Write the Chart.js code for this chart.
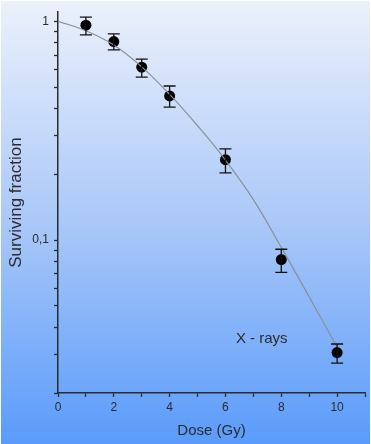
<!DOCTYPE html>
<html>
<head>
<meta charset="utf-8">
<script src="https://cdn.jsdelivr.net/npm/chart.js@4/dist/chart.umd.min.js"></script>
<style>
  html, body { margin: 0; padding: 0; background: #fff; }
  #wrap { width: 371px; height: 444px; position: relative; }
</style>
</head>
<body>
<div id="wrap"><canvas id="survival-chart"></canvas></div>
<script>
// measured points with error bars
const doses = [1, 2, 3, 4, 6, 8, 10]
const surviving = [0.96, 0.808, 0.617, 0.456, 0.233, 0.0814, 0.0306]
const errHigh = [1.045, 0.875, 0.672, 0.506, 0.261, 0.0908, 0.0335]
const errLow = [0.866, 0.740, 0.555, 0.405, 0.203, 0.0712, 0.0274]

// fitted curve
const fitDoses = [0, 1, 2, 3, 4, 5, 6, 7, 8, 9, 10]
const fitValues = [1.0, 0.905, 0.779, 0.619, 0.463, 0.333, 0.232, 0.153, 0.0926, 0.055, 0.0324]

const yTicks = [0.02, 0.03, 0.04, 0.05, 0.06, 0.07, 0.08, 0.09, 0.1, 0.2, 0.3, 0.4, 0.5, 0.6, 0.7, 0.8, 0.9, 1]
const yLabels = { '1': '1', '0.1': '0,1' }

const labelText = 'X - rays'
const labelAt = { x: 7.3, y: 0.0354 }

const ink = '#2b2b2b'
const fontFamily = '"Liberation Sans", Arial, sans-serif'

const background = {
  id: 'background',
  beforeDraw(chart) {
    const { ctx, width, height } = chart
    ctx.save()
    ctx.fillStyle = '#ffffff'
    ctx.fillRect(0, 0, width, height)
    const g = ctx.createLinearGradient(0, 0, 0, height)
    g.addColorStop(0, '#ecf1fb')
    g.addColorStop(0.5, '#aac8f8')
    g.addColorStop(1, '#5a9bfb')
    ctx.fillStyle = g
    ctx.fillRect(1, 1, width - 2, height - 1)
    ctx.restore()
  }
}

const errorBars = {
  id: 'errorBars',
  afterDatasetDraw(chart, args) {
    if (args.index !== 0) return
    const { ctx, scales: { x, y } } = chart
    ctx.save()
    ctx.strokeStyle = '#111'
    ctx.lineWidth = 1.3
    doses.forEach((d, i) => {
      const px = x.getPixelForValue(d)
      const top = y.getPixelForValue(errHigh[i])
      const bot = y.getPixelForValue(errLow[i])
      ctx.beginPath()
      ctx.moveTo(px, top); ctx.lineTo(px, bot)
      ctx.moveTo(px - 6, top); ctx.lineTo(px + 6, top)
      ctx.moveTo(px - 6, bot); ctx.lineTo(px + 6, bot)
      ctx.stroke()
    })
    ctx.restore()
  }
}

const textLabel = {
  id: 'textLabel',
  afterDraw(chart) {
    const { ctx, scales: { x, y } } = chart
    ctx.save()
    ctx.fillStyle = ink
    ctx.font = '15px ' + fontFamily
    ctx.textAlign = 'center'
    ctx.textBaseline = 'middle'
    ctx.fillText(labelText, x.getPixelForValue(labelAt.x), y.getPixelForValue(labelAt.y))
    ctx.restore()
  }
}

new Chart(document.querySelector('#survival-chart'), {
  data: {
    datasets: [{
      type: 'line',
      data: fitDoses.map((d, i) => ({ x: d, y: fitValues[i] })),
      borderColor: '#8a9099',
      borderWidth: 1.2,
      pointRadius: 0,
      tension: 0.4,
      fill: false
    }, {
      type: 'scatter',
      data: doses.map((d, i) => ({ x: d, y: surviving[i] })),
      backgroundColor: '#000',
      borderColor: '#000',
      pointRadius: 5.5,
      pointBorderWidth: 0
    }]
  },
  options: {
    responsive: true,
    maintainAspectRatio: false,
    animation: false,
    layout: { padding: { left: 0, top: 5, right: 6, bottom: 0 } },
    plugins: {
      legend: { display: false },
      tooltip: { enabled: false }
    },
    scales: {
      x: {
        type: 'linear',
        min: 0,
        max: 11,
        afterFit: (scale) => { scale.height = 51 },
        border: { display: true, color: ink, width: 1.5 },
        grid: { drawOnChartArea: false, drawTicks: true, tickLength: 4, tickColor: ink, tickWidth: 1.3 },
        ticks: {
          stepSize: 1,
          autoSkip: false,
          maxRotation: 0,
          padding: 3,
          color: ink,
          font: { family: fontFamily, size: 12 },
          callback: (v) => (v % 2 === 0 && v <= 10 ? String(v) : '')
        },
        title: {
          display: true,
          text: 'Dose (Gy)',
          color: ink,
          font: { family: fontFamily, size: 15 },
          padding: { top: 0, bottom: 4 }
        }
      },
      y: {
        type: 'logarithmic',
        min: 0.02,
        max: 1.1,
        afterFit: (scale) => { scale.width = 58 },
        afterBuildTicks: (scale) => { scale.ticks = yTicks.map(v => ({ value: v })) },
        border: { display: true, color: ink, width: 1.5 },
        grid: { drawOnChartArea: false, drawTicks: true, tickLength: 4, tickColor: ink, tickWidth: 1.3 },
        ticks: {
          autoSkip: false,
          padding: 5,
          color: ink,
          font: { family: fontFamily, size: 12 },
          callback: (v) => yLabels[String(+v.toFixed(4))] || ''
        },
        title: {
          display: true,
          text: 'Surviving fraction',
          color: ink,
          font: { family: fontFamily, size: 17 },
          padding: { top: 6, bottom: 0 }
        }
      }
    }
  },
  plugins: [background, errorBars, textLabel]
})
</script>
</body>
</html>
